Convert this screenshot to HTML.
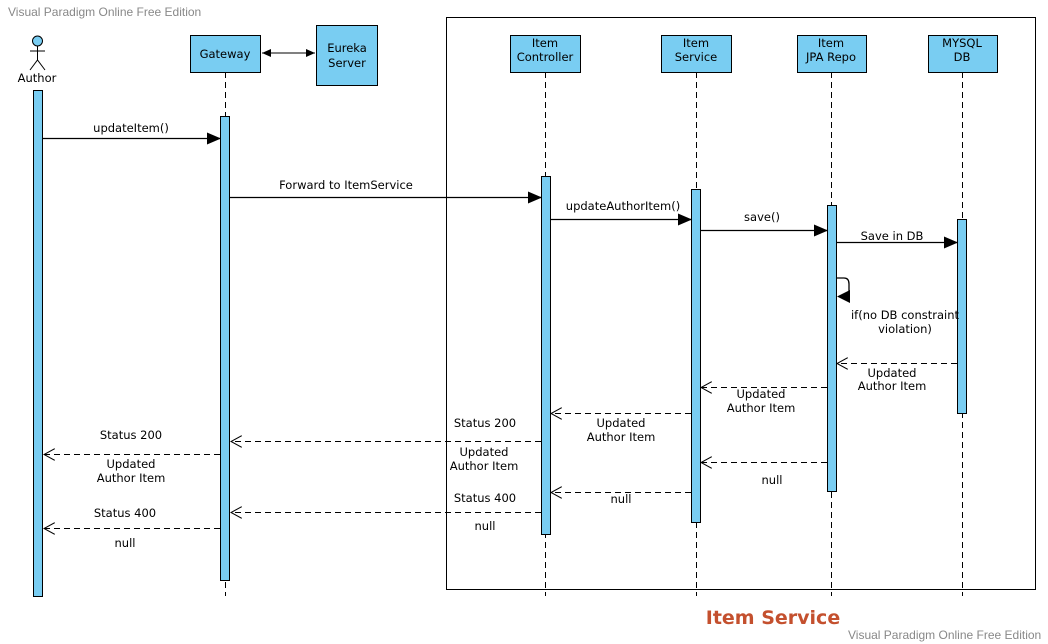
<!DOCTYPE html>
<html><head><meta charset="utf-8"><style>
html,body{margin:0;padding:0;background:#fff;}
svg{display:block;font-family:"DejaVu Sans","Liberation Sans",sans-serif;}
</style></head><body>
<svg width="1048" height="644" viewBox="0 0 1048 644" xmlns="http://www.w3.org/2000/svg">
<defs>
<marker id="f" markerWidth="14" markerHeight="12" refX="13" refY="6" orient="auto" markerUnits="userSpaceOnUse"><path d="M0,0 L14,6 L0,12 z" fill="#000"/></marker>
<marker id="o" markerWidth="12" markerHeight="12" refX="11" refY="6" orient="auto" markerUnits="userSpaceOnUse"><path d="M0,0 L11,6 L0,12" fill="none" stroke="#000" stroke-width="1"/></marker>
<marker id="s" markerWidth="10" markerHeight="10" refX="9" refY="5" orient="auto" markerUnits="userSpaceOnUse"><path d="M0,1 L9,5 L0,9 z" fill="#000"/></marker>
<marker id="s2" markerWidth="10" markerHeight="10" refX="1" refY="5" orient="auto" markerUnits="userSpaceOnUse"><path d="M10,1 L1,5 L10,9 z" fill="#000"/></marker>
</defs>
<text x="8" y="16" font-size="12" fill="#888" font-family="Liberation Sans,sans-serif">Visual Paradigm Online Free Edition</text>
<text x="848" y="639" font-size="12" fill="#888" font-family="Liberation Sans,sans-serif">Visual Paradigm Online Free Edition</text>
<rect x="446.5" y="17.5" width="589" height="572" fill="none" stroke="#000"/>
<g stroke="#000" stroke-dasharray="6,4" stroke-width="1">
<line x1="225.5" y1="72" x2="225.5" y2="596"/>
<line x1="545.5" y1="72" x2="545.5" y2="596"/>
<line x1="696.5" y1="72" x2="696.5" y2="596"/>
<line x1="831.5" y1="72" x2="831.5" y2="596"/>
<line x1="962.5" y1="72" x2="962.5" y2="596"/>
</g>
<g fill="#79cdf2" stroke="#000">
<rect x="190.5" y="35.5" width="70" height="37"/>
<rect x="316.5" y="25.5" width="61" height="60"/>
<rect x="510.5" y="35.5" width="70" height="37"/>
<rect x="661.5" y="35.5" width="70" height="37"/>
<rect x="797.5" y="35.5" width="69" height="37"/>
<rect x="928.5" y="35.5" width="69" height="37"/>
<rect x="33.5" y="90.5" width="9" height="506"/>
<rect x="220.5" y="116.5" width="9" height="464"/>
<rect x="541.5" y="176.5" width="9" height="358"/>
<rect x="691.5" y="189.5" width="9" height="333"/>
<rect x="827.5" y="205.5" width="9" height="286"/>
<rect x="957.5" y="219.5" width="9" height="194"/>
<circle cx="37.5" cy="41" r="5"/>
</g>
<g stroke="#000" fill="none">
<line x1="37.5" y1="46" x2="37.5" y2="60"/><line x1="30" y1="51" x2="45" y2="51"/>
<path d="M30,70 L37.5,60 L45,70"/>
</g>
<g font-size="11.5" text-anchor="middle" fill="#000">
<text x="37" y="82">Author</text>
<text x="225" y="58">Gateway</text>
<text x="347" y="52">Eureka</text><text x="347" y="67">Server</text>
<text x="545" y="47">Item</text><text x="545" y="61">Controller</text>
<text x="696" y="47">Item</text><text x="696" y="61">Service</text>
<text x="831" y="47">Item</text><text x="831" y="61">JPA Repo</text>
<text x="962" y="47">MYSQL</text><text x="962" y="61">DB</text>
</g>
<line x1="262" y1="53" x2="315" y2="53" stroke="#000" marker-start="url(#s2)" marker-end="url(#s)"/>
<g stroke="#000" stroke-width="1.3">
<line x1="43" y1="138.5" x2="220" y2="138.5" marker-end="url(#f)"/>
<line x1="230" y1="197.5" x2="541" y2="197.5" marker-end="url(#f)"/>
<line x1="550" y1="219.5" x2="691" y2="219.5" marker-end="url(#f)"/>
<line x1="700" y1="230.5" x2="827" y2="230.5" marker-end="url(#f)"/>
<line x1="836" y1="242.5" x2="957" y2="242.5" marker-end="url(#f)"/>
<path d="M836,278 H844 Q849,278 849,284 V291 Q849,297 844,297 H848" fill="none"/>
</g>
<path d="M837,296.5 L850,290 L850,303 z" fill="#000"/>
<g stroke="#000" stroke-dasharray="6,4" fill="none">
<line x1="957" y1="363.5" x2="837" y2="363.5" marker-end="url(#o)"/>
<line x1="827" y1="387.5" x2="701" y2="387.5" marker-end="url(#o)"/>
<line x1="691" y1="413.5" x2="551" y2="413.5" marker-end="url(#o)"/>
<line x1="541" y1="441.5" x2="231" y2="441.5" marker-end="url(#o)"/>
<line x1="220" y1="454.5" x2="44" y2="454.5" marker-end="url(#o)"/>
<line x1="827" y1="462.5" x2="701" y2="462.5" marker-end="url(#o)"/>
<line x1="691" y1="492.5" x2="551" y2="492.5" marker-end="url(#o)"/>
<line x1="541" y1="512.5" x2="231" y2="512.5" marker-end="url(#o)"/>
<line x1="220" y1="528.5" x2="44" y2="528.5" marker-end="url(#o)"/>
</g>
<g font-size="11.5" text-anchor="middle" fill="#000">
<text x="131" y="132">updateItem()</text>
<text x="346" y="189">Forward to ItemService</text>
<text x="623" y="210">updateAuthorItem()</text>
<text x="762" y="221">save()</text>
<text x="892" y="240">Save in DB</text>
<text x="905" y="319">if(no DB constraint</text><text x="905" y="333">violation)</text>
<text x="892" y="377">Updated</text><text x="892" y="390">Author Item</text>
<text x="761" y="398">Updated</text><text x="761" y="412">Author Item</text>
<text x="621" y="427">Updated</text><text x="621" y="441">Author Item</text>
<text x="485" y="427">Status 200</text>
<text x="484" y="456">Updated</text><text x="484" y="470">Author Item</text>
<text x="131" y="439">Status 200</text>
<text x="131" y="468">Updated</text><text x="131" y="482">Author Item</text>
<text x="772" y="484">null</text>
<text x="621" y="503">null</text>
<text x="485" y="502">Status 400</text>
<text x="485" y="530">null</text>
<text x="125" y="517">Status 400</text>
<text x="125" y="547">null</text>
</g>
<text x="773" y="624" font-size="19" font-weight="bold" fill="#c4502e" text-anchor="middle">Item Service</text>
</svg>
</body></html>
